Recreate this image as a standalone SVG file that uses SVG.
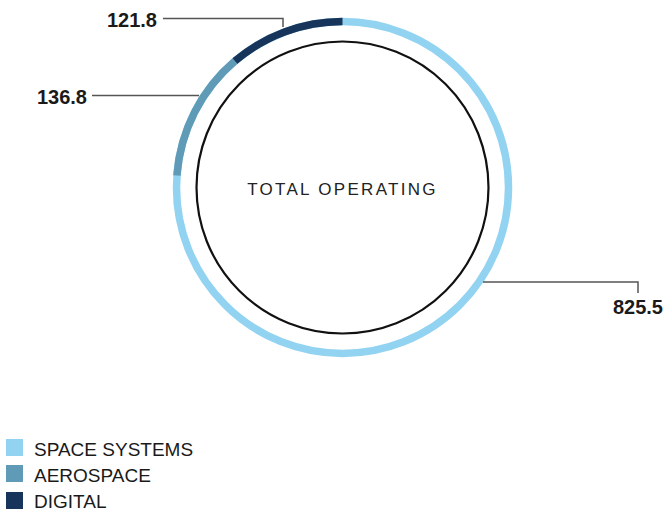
<svg xmlns="http://www.w3.org/2000/svg" width="665" height="511" viewBox="0 0 665 511">
<style>
.seg{fill:none;stroke-width:7.5;stroke-linecap:butt}
.lead{fill:none;stroke:#555555;stroke-width:1.5}
.val{font-family:"Liberation Sans",Arial,sans-serif;font-weight:bold;font-size:20px;fill:#1a1a1a}
.leg{font-family:"Liberation Sans",Arial,sans-serif;font-size:19px;fill:#1a1a1a}
</style>
<rect width="665" height="511" fill="#ffffff"/>
<g id="ring">
<circle cx="342.5" cy="187.5" r="166" class="seg" stroke="#92d3f1"/>
<path d="M342.5,21.5 A166,166 0 0 0 234.8,61.2" class="seg" stroke="#17355a"/>
<path d="M234.8,61.2 A166,166 0 0 0 176.93,175.57" class="seg" stroke="#5f9bb6"/>
</g>
<g id="center">
<circle cx="342.5" cy="187.5" r="146" fill="none" stroke="#111111" stroke-width="2.2"/>
<text x="342.5" y="195" text-anchor="middle" font-family="'Liberation Sans',Arial,sans-serif" font-size="17" letter-spacing="2.3" fill="#222222">TOTAL OPERATING</text>
</g>
<g id="connectors">
<polyline class="lead" points="163,18.5 283,18.5 283,27"/>
<polyline class="lead" points="92,95.5 199,95.5"/>
<polyline class="lead" points="483,282 638,282 638,293"/>
</g>
<g id="labels">
<text class="val" x="157" y="27" text-anchor="end">121.8</text>
<text class="val" x="87" y="104" text-anchor="end">136.8</text>
<text class="val" x="663" y="314" text-anchor="end">825.5</text>
</g>
<g id="legend">
<rect x="6" y="439" width="17" height="17" fill="#92d3f1"/>
<text class="leg" x="34" y="456">SPACE SYSTEMS</text>
<rect x="6" y="465" width="17" height="17" fill="#5f9bb6"/>
<text class="leg" x="34" y="482">AEROSPACE</text>
<rect x="6" y="492" width="17" height="17" fill="#17355a"/>
<text class="leg" x="34" y="508">DIGITAL</text>
</g>
</svg>
